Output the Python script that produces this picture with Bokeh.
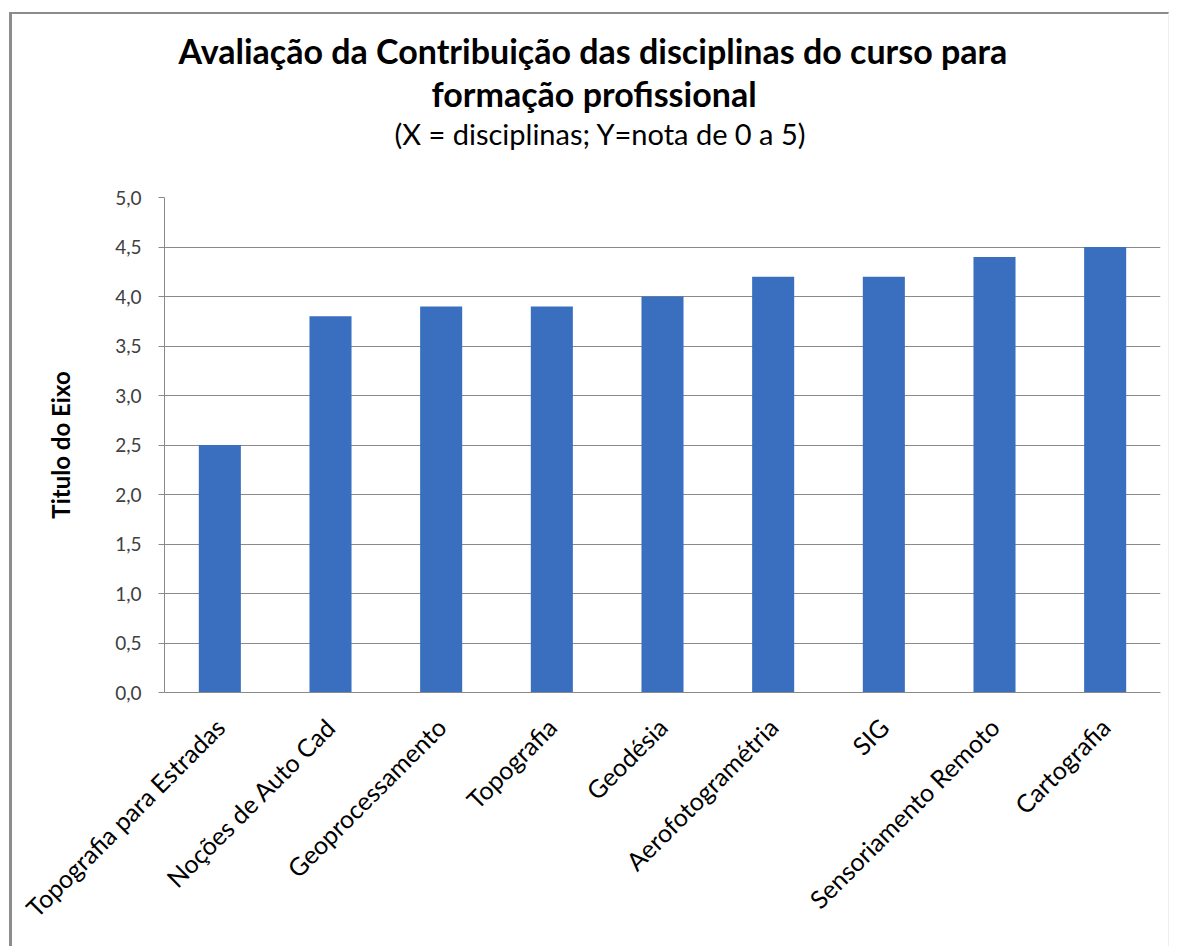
from bokeh.plotting import figure
from bokeh.models import ColumnDataSource, Title, CustomJSTickFormatter, FixedTicker
from bokeh.embed import file_html
from bokeh.resources import INLINE
import math

categories = ["Topografia para Estradas", "Noções de Auto Cad", "Geoprocessamento",
              "Topografia", "Geodésia", "Aerofotogramétria", "SIG",
              "Sensoriamento Remoto", "Cartografia"]
scores = [2.5, 3.8, 3.9, 3.9, 4.0, 4.2, 4.2, 4.4, 4.5]
y_ticks = [0.0, 0.5, 1.0, 1.5, 2.0, 2.5, 3.0, 3.5, 4.0, 4.5, 5.0]
title_lines = ["Avaliação da Contribuição das disciplinas do curso para",
               "formação profissional"]
subtitle = "(X = disciplinas; Y=nota de 0 a 5)"
y_label = "Titulo do Eixo"

FONT = "Lato"
src = ColumnDataSource(dict(cat=categories, val=scores))

p = figure(x_range=categories, y_range=(0, 5), width=1160, height=934,
           output_backend="svg", toolbar_location=None,
           min_border_left=152, min_border_right=12, min_border_top=183,
           min_border_bottom=256)
p.styles = {"border-left": "3px solid #8c8c8c", "border-top": "2px solid #8c8c8c",
            "border-right": "1px solid #efefef",
            "margin-top": "12px", "margin-left": "9px"}
p.outline_line_color = None
p.background_fill_color = "white"
p.border_fill_color = "white"

p.vbar(x="cat", top="val", width=0.38, source=src, fill_color="#3a6ebf",
       line_color=None)

p.xgrid.grid_line_color = None
p.ygrid.grid_line_color = "#8a8a8a"
p.ygrid.grid_line_width = 1
p.yaxis.ticker = FixedTicker(ticks=y_ticks)
p.yaxis.formatter = CustomJSTickFormatter(code="return tick.toFixed(1).replace('.', ',');")
p.yaxis.major_tick_out = 6
p.yaxis.major_tick_in = 0
p.yaxis.minor_tick_line_color = None
p.yaxis.major_tick_line_color = "#8a8a8a"
p.yaxis.axis_line_color = "#8a8a8a"
p.yaxis.major_label_text_font = FONT
p.yaxis.major_label_text_font_size = "19px"
p.yaxis.major_label_text_color = "#404040"
p.yaxis.major_label_standoff = 17
p.yaxis.axis_label = y_label
p.yaxis.axis_label_text_font = FONT
p.yaxis.axis_label_text_font_size = "24px"
p.yaxis.axis_label_text_font_style = "bold"
p.yaxis.axis_label_text_color = "#000000"
p.yaxis.axis_label_standoff = 37

p.xaxis.axis_line_color = "#8a8a8a"
p.xaxis.major_tick_line_color = None
p.xaxis.minor_tick_line_color = None
p.xaxis.major_label_orientation = math.pi / 4
p.xaxis.major_label_text_font = FONT
p.xaxis.major_label_text_font_size = "25px"
p.xaxis.major_label_text_color = "#000000"
p.xaxis.major_label_standoff = 24

# Titles stacked above the frame (first added is closest to the frame)
p.add_layout(Title(text=" ", text_font_size="1px", standoff=44), "above")  # spacer
p.add_layout(Title(text=subtitle, align="left", offset=230, text_font=FONT,
                   text_font_size="29px", text_font_style="normal",
                   text_color="#000000", standoff=0), "above")
p.add_layout(Title(text=title_lines[1], align="left", offset=267, text_font=FONT,
                   text_font_size="34px", text_font_style="bold",
                   text_color="#000000", standoff=0), "above")
p.add_layout(Title(text=title_lines[0], align="left", offset=14, text_font=FONT,
                   text_font_size="34px", text_font_style="bold",
                   text_color="#000000", standoff=0), "above")

open("out.html", "w").write(file_html(p, INLINE))
